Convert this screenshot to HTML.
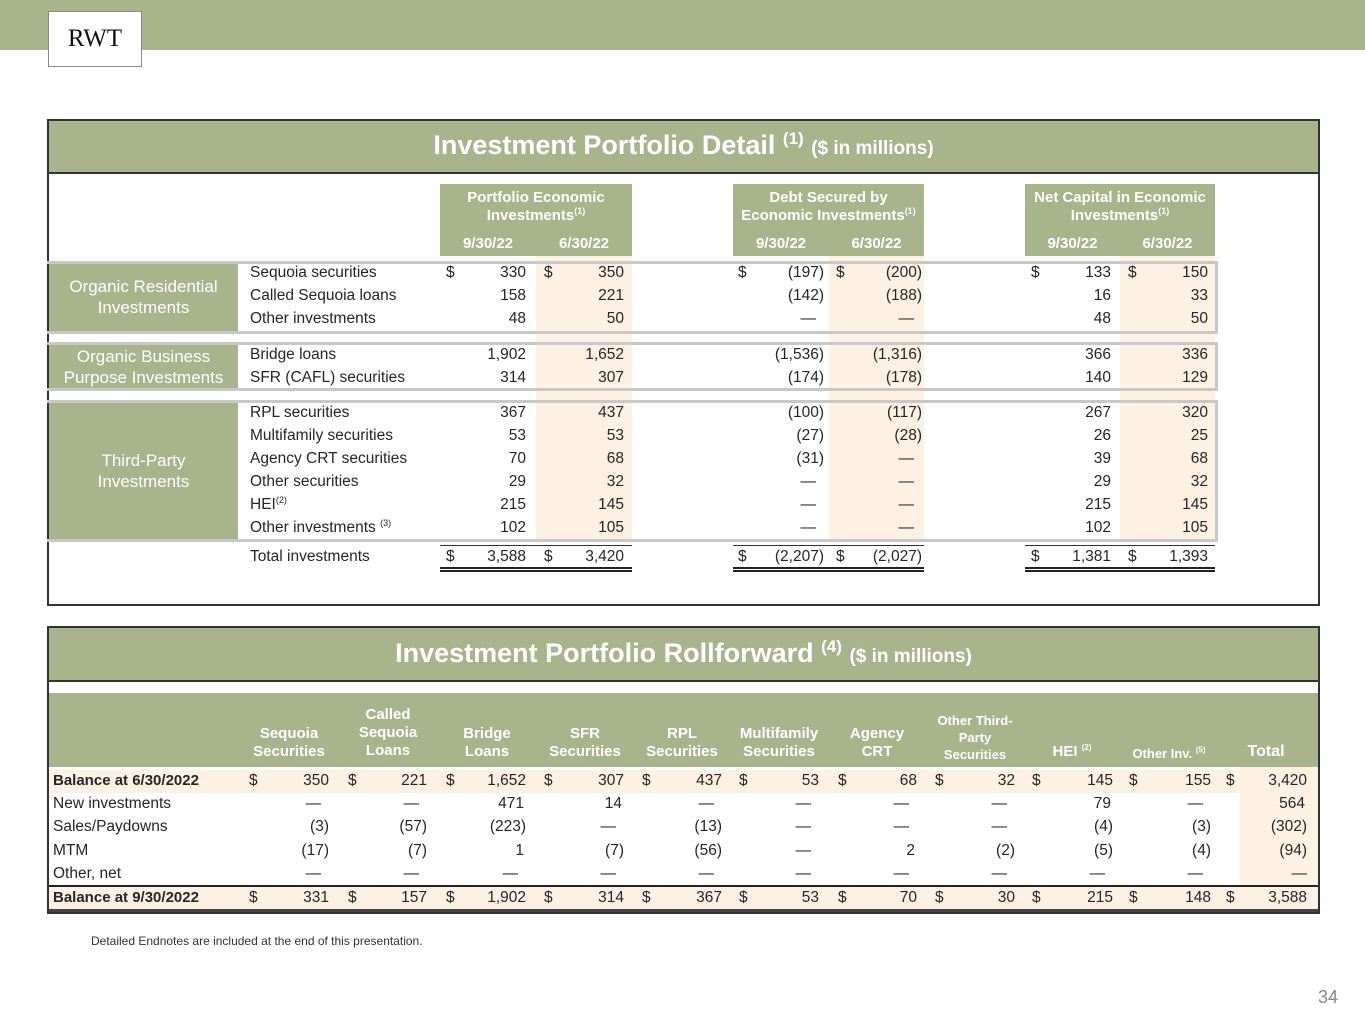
<!DOCTYPE html>
<html><head><meta charset="utf-8"><style>
body{margin:0;width:1365px;height:1024px;position:relative;background:#fff;font-family:"Liberation Sans",Arial,sans-serif;color:#262626;overflow:hidden}
div{position:absolute;box-sizing:border-box}
sup{line-height:0}
.g{background:#a8b48b}
.c{background:#fdf1e3}
.t{font-size:15.5px;line-height:18px;white-space:nowrap}
.v{font-size:15.5px;line-height:18px;width:90px;text-align:right;white-space:nowrap}
.d{padding-right:8px}
.h{color:#fff;font-weight:bold;text-align:center;font-size:15px;line-height:18px;white-space:nowrap}
.w{color:#fff;text-align:center;font-size:17px;line-height:21px}
.b{font-weight:bold}
.ln{background:#c8c8c8}
</style></head><body>
<div class="g" style="left:0;top:0;width:1365px;height:50px"></div>
<div style="left:48px;top:11px;width:94px;height:56px;background:#fff;border:1px solid #8a8a8a;font-family:'Liberation Serif',serif;font-size:25px;line-height:54px;text-align:center;color:#111">RWT</div>

<!-- Panel 1 -->
<div style="left:47px;top:119px;width:1273px;height:487px;border:2px solid #333"></div>
<div class="g" style="left:49px;top:121px;width:1269px;height:53px;border-bottom:2px solid #333"></div>
<div style="left:49px;top:129px;width:1269px;text-align:center;color:#fff;font-weight:bold;font-size:27px;line-height:32px">Investment Portfolio Detail <sup style="font-size:17px">(1)</sup> <span style="font-size:19px">($ in millions)</span></div>

<div class="c" style="left:536px;top:256px;width:96px;height:284px"></div>
<div class="c" style="left:829px;top:256px;width:95px;height:284px"></div>
<div class="c" style="left:1120px;top:256px;width:95px;height:284px"></div>

<div class="g" style="left:440px;top:184px;width:192px;height:72px"></div>
<div class="g" style="left:733px;top:184px;width:191px;height:72px"></div>
<div class="g" style="left:1025px;top:184px;width:190px;height:72px"></div>
<div class="h" style="left:440px;top:189px;width:192px">Portfolio Economic<br>Investments<sup style="font-size:9px">(1)</sup></div>
<div class="h" style="left:733px;top:189px;width:191px">Debt Secured by<br>Economic Investments<sup style="font-size:9px">(1)</sup></div>
<div class="h" style="left:1025px;top:189px;width:190px">Net Capital in Economic<br>Investments<sup style="font-size:9px">(1)</sup></div>
<div class="h" style="left:440px;top:235px;width:96px">9/30/22</div><div class="h" style="left:536px;top:235px;width:96px">6/30/22</div>
<div class="h" style="left:733px;top:235px;width:96px">9/30/22</div><div class="h" style="left:829px;top:235px;width:95px">6/30/22</div>
<div class="h" style="left:1025px;top:235px;width:95px">9/30/22</div><div class="h" style="left:1120px;top:235px;width:95px">6/30/22</div>

<div class="ln" style="left:47px;top:261px;width:1170px;height:3px"></div>
<div class="ln" style="left:47px;top:331px;width:1170px;height:3px"></div>
<div class="ln" style="left:47px;top:342px;width:1170px;height:3px"></div>
<div class="ln" style="left:47px;top:388px;width:1170px;height:3px"></div>
<div class="ln" style="left:47px;top:400px;width:1170px;height:3px"></div>
<div class="ln" style="left:47px;top:539px;width:1170px;height:3px"></div>
<div class="ln" style="left:1215px;top:261px;width:3px;height:73px"></div>
<div class="ln" style="left:1215px;top:342px;width:3px;height:49px"></div>
<div class="ln" style="left:1215px;top:400px;width:3px;height:142px"></div>

<div class="g" style="left:49px;top:264px;width:189px;height:67px"></div>
<div class="g" style="left:49px;top:345px;width:189px;height:43px"></div>
<div class="g" style="left:49px;top:403px;width:189px;height:136px"></div>
<div class="w" style="left:49px;top:276px;width:189px">Organic Residential<br>Investments</div>
<div class="w" style="left:49px;top:346px;width:189px">Organic Business<br>Purpose Investments</div>
<div class="w" style="left:49px;top:450px;width:189px">Third-Party<br>Investments</div>

<div class="t" style="left:250px;top:264px">Sequoia securities</div>
<div class="t" style="left:250px;top:287px">Called Sequoia loans</div>
<div class="t" style="left:250px;top:310px">Other investments</div>
<div class="t" style="left:250px;top:346px">Bridge loans</div>
<div class="t" style="left:250px;top:369px">SFR (CAFL) securities</div>
<div class="t" style="left:250px;top:404px">RPL securities</div>
<div class="t" style="left:250px;top:427px">Multifamily securities</div>
<div class="t" style="left:250px;top:450px">Agency CRT securities</div>
<div class="t" style="left:250px;top:473px">Other securities</div>
<div class="t" style="left:250px;top:496px">HEI<sup style="font-size:9px">(2)</sup></div>
<div class="t" style="left:250px;top:519px">Other investments <sup style="font-size:9px">(3)</sup></div>
<div class="t" style="left:250px;top:548px">Total investments</div>

<div class="t" style="left:446px;top:264px">$</div><div class="t" style="left:544px;top:264px">$</div><div class="t" style="left:738px;top:264px">$</div><div class="t" style="left:836px;top:264px">$</div><div class="t" style="left:1031px;top:264px">$</div><div class="t" style="left:1128px;top:264px">$</div>
<div class="t" style="left:446px;top:548px">$</div><div class="t" style="left:544px;top:548px">$</div><div class="t" style="left:738px;top:548px">$</div><div class="t" style="left:836px;top:548px">$</div><div class="t" style="left:1031px;top:548px">$</div><div class="t" style="left:1128px;top:548px">$</div>

<div class="v" style="left:436px;top:264px">330</div><div class="v" style="left:534px;top:264px">350</div><div class="v" style="left:734px;top:264px">(197)</div><div class="v" style="left:832px;top:264px">(200)</div><div class="v" style="left:1021px;top:264px">133</div><div class="v" style="left:1118px;top:264px">150</div>
<div class="v" style="left:436px;top:287px">158</div><div class="v" style="left:534px;top:287px">221</div><div class="v" style="left:734px;top:287px">(142)</div><div class="v" style="left:832px;top:287px">(188)</div><div class="v" style="left:1021px;top:287px">16</div><div class="v" style="left:1118px;top:287px">33</div>
<div class="v" style="left:436px;top:310px">48</div><div class="v" style="left:534px;top:310px">50</div><div class="v d" style="left:734px;top:310px">—</div><div class="v d" style="left:832px;top:310px">—</div><div class="v" style="left:1021px;top:310px">48</div><div class="v" style="left:1118px;top:310px">50</div>
<div class="v" style="left:436px;top:346px">1,902</div><div class="v" style="left:534px;top:346px">1,652</div><div class="v" style="left:734px;top:346px">(1,536)</div><div class="v" style="left:832px;top:346px">(1,316)</div><div class="v" style="left:1021px;top:346px">366</div><div class="v" style="left:1118px;top:346px">336</div>
<div class="v" style="left:436px;top:369px">314</div><div class="v" style="left:534px;top:369px">307</div><div class="v" style="left:734px;top:369px">(174)</div><div class="v" style="left:832px;top:369px">(178)</div><div class="v" style="left:1021px;top:369px">140</div><div class="v" style="left:1118px;top:369px">129</div>
<div class="v" style="left:436px;top:404px">367</div><div class="v" style="left:534px;top:404px">437</div><div class="v" style="left:734px;top:404px">(100)</div><div class="v" style="left:832px;top:404px">(117)</div><div class="v" style="left:1021px;top:404px">267</div><div class="v" style="left:1118px;top:404px">320</div>
<div class="v" style="left:436px;top:427px">53</div><div class="v" style="left:534px;top:427px">53</div><div class="v" style="left:734px;top:427px">(27)</div><div class="v" style="left:832px;top:427px">(28)</div><div class="v" style="left:1021px;top:427px">26</div><div class="v" style="left:1118px;top:427px">25</div>
<div class="v" style="left:436px;top:450px">70</div><div class="v" style="left:534px;top:450px">68</div><div class="v" style="left:734px;top:450px">(31)</div><div class="v d" style="left:832px;top:450px">—</div><div class="v" style="left:1021px;top:450px">39</div><div class="v" style="left:1118px;top:450px">68</div>
<div class="v" style="left:436px;top:473px">29</div><div class="v" style="left:534px;top:473px">32</div><div class="v d" style="left:734px;top:473px">—</div><div class="v d" style="left:832px;top:473px">—</div><div class="v" style="left:1021px;top:473px">29</div><div class="v" style="left:1118px;top:473px">32</div>
<div class="v" style="left:436px;top:496px">215</div><div class="v" style="left:534px;top:496px">145</div><div class="v d" style="left:734px;top:496px">—</div><div class="v d" style="left:832px;top:496px">—</div><div class="v" style="left:1021px;top:496px">215</div><div class="v" style="left:1118px;top:496px">145</div>
<div class="v" style="left:436px;top:519px">102</div><div class="v" style="left:534px;top:519px">105</div><div class="v d" style="left:734px;top:519px">—</div><div class="v d" style="left:832px;top:519px">—</div><div class="v" style="left:1021px;top:519px">102</div><div class="v" style="left:1118px;top:519px">105</div>
<div class="v" style="left:436px;top:548px">3,588</div><div class="v" style="left:534px;top:548px">3,420</div><div class="v" style="left:734px;top:548px">(2,207)</div><div class="v" style="left:832px;top:548px">(2,027)</div><div class="v" style="left:1021px;top:548px">1,381</div><div class="v" style="left:1118px;top:548px">1,393</div>
<div style="left:440px;top:545px;width:192px;height:1px;background:#333"></div>
<div style="left:733px;top:545px;width:191px;height:1px;background:#333"></div>
<div style="left:1025px;top:545px;width:190px;height:1px;background:#333"></div>
<div style="left:440px;top:567px;width:192px;height:5px;border-top:2px solid #222;border-bottom:2px solid #222"></div>
<div style="left:733px;top:567px;width:191px;height:5px;border-top:2px solid #222;border-bottom:2px solid #222"></div>
<div style="left:1025px;top:567px;width:190px;height:5px;border-top:2px solid #222;border-bottom:2px solid #222"></div>

<!-- Panel 2 -->
<div style="left:47px;top:626px;width:1273px;height:288px;border:2px solid #333"></div>
<div class="g" style="left:49px;top:628px;width:1269px;height:54px;border-bottom:2px solid #333"></div>
<div style="left:49px;top:637px;width:1269px;text-align:center;color:#fff;font-weight:bold;font-size:27px;line-height:32px">Investment Portfolio Rollforward <sup style="font-size:17px">(4)</sup> <span style="font-size:19px">($ in millions)</span></div>
<div class="g" style="left:49px;top:693px;width:1269px;height:74px"></div>
<div class="c" style="left:49px;top:770px;width:1269px;height:23px"></div>
<div class="c" style="left:1240px;top:767px;width:78px;height:120px"></div>
<div class="c" style="left:49px;top:887px;width:1269px;height:23px"></div>
<div style="left:49px;top:885px;width:1269px;height:2px;background:#222"></div>
<div style="left:49px;top:909px;width:1269px;height:3px;background:#444"></div>

<div class="h" style="left:239px;top:725px;width:100px">Sequoia<br>Securities</div>
<div class="h" style="left:338px;top:706px;width:100px">Called<br>Sequoia<br>Loans</div>
<div class="h" style="left:437px;top:725px;width:100px">Bridge<br>Loans</div>
<div class="h" style="left:535px;top:725px;width:100px">SFR<br>Securities</div>
<div class="h" style="left:632px;top:725px;width:100px">RPL<br>Securities</div>
<div class="h" style="left:729px;top:725px;width:100px">Multifamily<br>Securities</div>
<div class="h" style="left:827px;top:725px;width:100px">Agency<br>CRT</div>
<div class="h" style="left:925px;top:712px;width:100px;font-size:13px;line-height:17px">Other Third-<br>Party<br>Securities</div>
<div class="h" style="left:1022px;top:743px;width:100px">HEI <sup style="font-size:8px">(2)</sup></div>
<div class="h" style="left:1119px;top:745px;width:100px;font-size:13px">Other Inv. <sup style="font-size:8px">(5)</sup></div>
<div class="h" style="left:1216px;top:743px;width:100px;font-size:16px">Total</div>

<div class="t b" style="left:53px;top:772px;font-size:15px">Balance at 6/30/2022</div>
<div class="t" style="left:53px;top:795px">New investments</div>
<div class="t" style="left:53px;top:818px">Sales/Paydowns</div>
<div class="t" style="left:53px;top:842px">MTM</div>
<div class="t" style="left:53px;top:865px">Other, net</div>
<div class="t b" style="left:53px;top:889px;font-size:15px">Balance at 9/30/2022</div>

<div class="t" style="left:249px;top:772px">$</div><div class="t" style="left:348px;top:772px">$</div><div class="t" style="left:446px;top:772px">$</div><div class="t" style="left:544px;top:772px">$</div><div class="t" style="left:642px;top:772px">$</div><div class="t" style="left:739px;top:772px">$</div><div class="t" style="left:838px;top:772px">$</div><div class="t" style="left:935px;top:772px">$</div><div class="t" style="left:1032px;top:772px">$</div><div class="t" style="left:1129px;top:772px">$</div><div class="t" style="left:1226px;top:772px">$</div>
<div class="t" style="left:249px;top:889px">$</div><div class="t" style="left:348px;top:889px">$</div><div class="t" style="left:446px;top:889px">$</div><div class="t" style="left:544px;top:889px">$</div><div class="t" style="left:642px;top:889px">$</div><div class="t" style="left:739px;top:889px">$</div><div class="t" style="left:838px;top:889px">$</div><div class="t" style="left:935px;top:889px">$</div><div class="t" style="left:1032px;top:889px">$</div><div class="t" style="left:1129px;top:889px">$</div><div class="t" style="left:1226px;top:889px">$</div>

<div class="v" style="left:239px;top:772px">350</div><div class="v" style="left:337px;top:772px">221</div><div class="v" style="left:436px;top:772px">1,652</div><div class="v" style="left:534px;top:772px">307</div><div class="v" style="left:632px;top:772px">437</div><div class="v" style="left:729px;top:772px">53</div><div class="v" style="left:827px;top:772px">68</div><div class="v" style="left:925px;top:772px">32</div><div class="v" style="left:1023px;top:772px">145</div><div class="v" style="left:1121px;top:772px">155</div><div class="v" style="left:1217px;top:772px">3,420</div>

<div class="v d" style="left:239px;top:795px">—</div><div class="v d" style="left:337px;top:795px">—</div><div class="v" style="left:436px;top:795px;padding-right:2px">471</div><div class="v" style="left:534px;top:795px;padding-right:2px">14</div><div class="v d" style="left:632px;top:795px">—</div><div class="v d" style="left:729px;top:795px">—</div><div class="v d" style="left:827px;top:795px">—</div><div class="v d" style="left:925px;top:795px">—</div><div class="v" style="left:1023px;top:795px;padding-right:2px">79</div><div class="v d" style="left:1121px;top:795px">—</div><div class="v" style="left:1217px;top:795px;padding-right:2px">564</div>

<div class="v" style="left:239px;top:818px">(3)</div><div class="v" style="left:337px;top:818px">(57)</div><div class="v" style="left:436px;top:818px">(223)</div><div class="v d" style="left:534px;top:818px">—</div><div class="v" style="left:632px;top:818px">(13)</div><div class="v d" style="left:729px;top:818px">—</div><div class="v d" style="left:827px;top:818px">—</div><div class="v d" style="left:925px;top:818px">—</div><div class="v" style="left:1023px;top:818px">(4)</div><div class="v" style="left:1121px;top:818px">(3)</div><div class="v" style="left:1217px;top:818px">(302)</div>

<div class="v" style="left:239px;top:842px">(17)</div><div class="v" style="left:337px;top:842px">(7)</div><div class="v" style="left:436px;top:842px;padding-right:2px">1</div><div class="v" style="left:534px;top:842px">(7)</div><div class="v" style="left:632px;top:842px">(56)</div><div class="v d" style="left:729px;top:842px">—</div><div class="v" style="left:827px;top:842px;padding-right:2px">2</div><div class="v" style="left:925px;top:842px">(2)</div><div class="v" style="left:1023px;top:842px">(5)</div><div class="v" style="left:1121px;top:842px">(4)</div><div class="v" style="left:1217px;top:842px">(94)</div>

<div class="v d" style="left:239px;top:865px">—</div><div class="v d" style="left:337px;top:865px">—</div><div class="v d" style="left:436px;top:865px">—</div><div class="v d" style="left:534px;top:865px">—</div><div class="v d" style="left:632px;top:865px">—</div><div class="v d" style="left:729px;top:865px">—</div><div class="v d" style="left:827px;top:865px">—</div><div class="v d" style="left:925px;top:865px">—</div><div class="v d" style="left:1023px;top:865px">—</div><div class="v d" style="left:1121px;top:865px">—</div><div class="v" style="left:1217px;top:865px">—</div>

<div class="v" style="left:239px;top:889px">331</div><div class="v" style="left:337px;top:889px">157</div><div class="v" style="left:436px;top:889px">1,902</div><div class="v" style="left:534px;top:889px">314</div><div class="v" style="left:632px;top:889px">367</div><div class="v" style="left:729px;top:889px">53</div><div class="v" style="left:827px;top:889px">70</div><div class="v" style="left:925px;top:889px">30</div><div class="v" style="left:1023px;top:889px">215</div><div class="v" style="left:1121px;top:889px">148</div><div class="v" style="left:1217px;top:889px">3,588</div>

<div style="left:91px;top:934px;font-size:12px;line-height:14px;color:#333;white-space:nowrap">Detailed Endnotes are included at the end of this presentation.</div>
<div style="left:1300px;top:986px;width:38px;text-align:right;font-size:18px;line-height:22px;color:#888">34</div>
</body></html>
